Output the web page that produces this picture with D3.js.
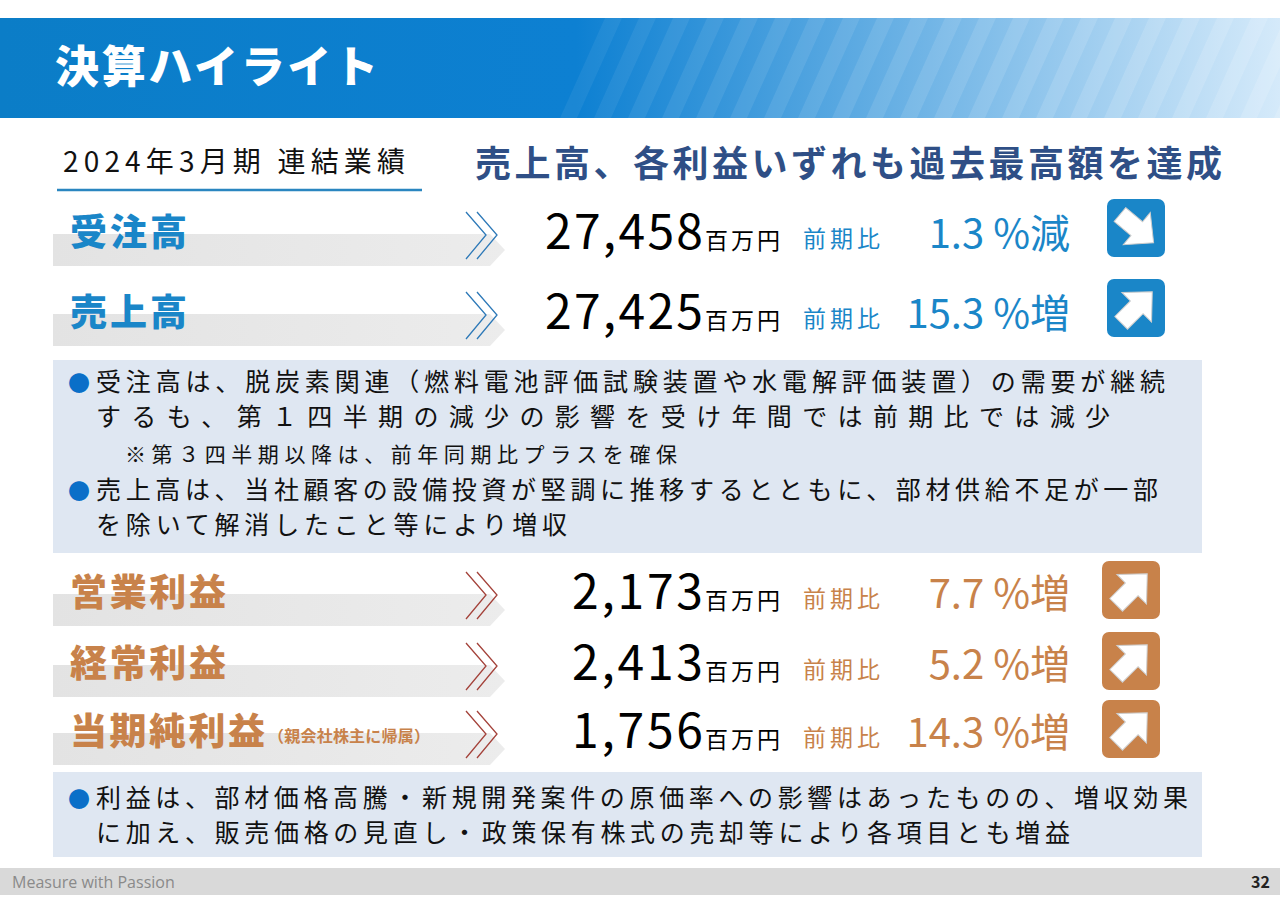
<!DOCTYPE html>
<html><head><meta charset="utf-8">
<script src="https://cdn.jsdelivr.net/npm/d3@7"></script>
<style>body{margin:0;background:#fff}svg{display:block;font-family:"Noto Sans CJK JP","Noto Sans",sans-serif}</style>
</head><body><div id="chart"></div>
<script>
// data
const topLabels = ['受注高', '売上高'];
const topValues = [27458, 27425];
const topPcts = [1.3, 15.3];
const topDirs = ['減', '増'];
const profitLabels = ['営業利益', '経常利益', '当期純利益'];
const profitValues = [2173, 2413, 1756];
const profitPcts = [7.7, 5.2, 14.3];
const profitDirs = ['増', '増', '増'];
const note1 = [
  ['●', '受注高は、脱炭素関連（燃料電池評価試験装置や水電解評価装置）の需要が継続', 1069],
  ['', 'するも、第１四半期の減少の影響を受け年間では前期比では減少', 1014],
  ['', '※第３四半期以降は、前年同期比プラスを確保', 552],
  ['●', '売上高は、当社顧客の設備投資が堅調に推移するとともに、部材供給不足が一部', 1062],
  ['', 'を除いて解消したこと等により増収', 471]
];
const note2 = [
  ['●', '利益は、部材価格高騰・新規開発案件の原価率への影響はあったものの、増収効果', 1092],
  ['', 'に加え、販売価格の見直し・政策保有株式の売却等により各項目とも増益', 974]
];

const W = 1280, H = 905;
const blue = '#1a86c8', orange = '#c8824a';
const svg = d3.select('#chart').append('svg').attr('width', W).attr('height', H);
const defs = svg.append('defs');

const hg = defs.append('linearGradient').attr('id', 'hg');
hg.append('stop').attr('offset', '0').attr('stop-color', '#0b7dc7');
hg.append('stop').attr('offset', '0.45').attr('stop-color', '#0d80d2');
hg.append('stop').attr('offset', '1').attr('stop-color', '#d5eafa');
const bg = defs.append('linearGradient').attr('id', 'bg');
bg.append('stop').attr('offset', '0').attr('stop-color', '#e3e3e3');
bg.append('stop').attr('offset', '1').attr('stop-color', '#ececec');

// header
svg.append('rect').attr('x', 0).attr('y', 18).attr('width', W).attr('height', 100).attr('fill', 'url(#hg)');
const stripes = d3.range(560, 1300, 34);
svg.append('g').selectAll('path').data(stripes).join('path')
  .attr('d', d => `M${d},118 L${d + 45},18 L${d + 62},18 L${d + 17},118Z`)
  .attr('fill', '#fff').attr('opacity', (d, i) => 0.06 + 0.1 * i / stripes.length);
svg.append('text').attr('x', 55).attr('y', 83).attr('fill', '#fff').attr('textLength', 323)
  .attr('font-size', 44).attr('font-weight', 900).text('決算ハイライト');

svg.append('text').attr('x', 63).attr('y', 172).attr('font-size', 28).attr('textLength', 342).attr('fill', '#111').text('2024年3月期 連結業績');
svg.append('line').attr('x1', 57).attr('x2', 422).attr('y1', 190).attr('y2', 190).attr('stroke', '#2a86c0').attr('stroke-width', 2.5);
svg.append('text').attr('x', 475).attr('y', 177).attr('textLength', 747).attr('font-size', 36)
  .attr('font-weight', 700).attr('fill', '#2f4f86').text('売上高、各利益いずれも過去最高額を達成');

// note boxes
function noteBox(lines, y0, h, ys) {
  svg.append('rect').attr('x', 53).attr('y', y0).attr('width', 1149).attr('height', h).attr('fill', '#dfe7f2');
  const g = svg.append('g');
  lines.forEach((l, i) => {
    if (l[0]) g.append('text').attr('x', 68).attr('y', ys[i]).attr('font-size', 22).attr('fill', '#0a6fc8').text(l[0]);
    const small = l[1].startsWith('※');
    g.append('text').attr('x', small ? 125 : 96).attr('y', ys[i]).attr('font-size', small ? 21 : 25)
      .attr('textLength', l[2]).attr('fill', '#111').text(l[1]);
  });
}
noteBox(note1, 360, 193, [391, 426, 462, 499, 534]);
noteBox(note2, 772, 85, [807, 842]);

// rows
const rows = topLabels.map((l, i) => ({ label: l, value: topValues[i], pct: topPcts[i], dir: topDirs[i], c: blue, cc: '#2d79b8', vx: 545 }))
  .concat(profitLabels.map((l, i) => ({ label: l, value: profitValues[i], pct: profitPcts[i], dir: profitDirs[i], c: orange, cc: '#a4423a', vx: 572 })));
const y = d3.scaleOrdinal().domain(rows.map(d => d.label)).range([237, 317, 597, 668, 736]);
const fmt = d3.format(',');

const row = svg.append('g').selectAll('g').data(rows).join('g').attr('transform', d => `translate(0,${y(d.label)})`);
row.append('path').attr('d', 'M53,-3 L490,-3 L505,13 L490,29 L53,29Z').attr('fill', 'url(#bg)');
row.append('text').attr('x', 70).attr('y', 9).attr('font-size', 37).attr('font-weight', 900).attr('fill', d => d.c)
  .attr('textLength', d => d.label.length * 39).text(d => d.label);
row.filter(d => d.label === '当期純利益').append('text').attr('x', 268).attr('y', 6).attr('font-size', 16)
  .attr('font-weight', 700).attr('fill', orange).attr('textLength', 162).text('（親会社株主に帰属）');
row.append('path').attr('d', 'M466,-25 L486,-2 L466,22 M477,-25 L497,-2 L477,22').attr('fill', 'none')
  .attr('stroke', d => d.cc).attr('stroke-width', 1.3);
row.append('text').attr('y', 12).attr('fill', '#000')
  .call(t => t.append('tspan').attr('x', d => d.vx).attr('font-size', 48)
    .attr('textLength', d => 703 - d.vx).text(d => fmt(d.value)))
  .call(t => t.append('tspan').attr('x', 705).attr('font-size', 23).attr('textLength', 75).text('百万円'));
row.append('text').attr('x', 803).attr('y', 10).attr('font-size', 23).attr('textLength', 77).attr('fill', d => d.c).text('前期比');
row.append('text').attr('x', 1070).attr('y', 11).attr('text-anchor', 'end').attr('font-size', 40).attr('fill', d => d.c)
  .text(d => `${d.pct.toFixed(1)} %${d.dir}`);
const icon = row.append('g').attr('transform', (d, i) => `translate(${i < 2 ? 1136 : 1131},${i < 2 ? -9 : -7})`);
icon.append('rect').attr('x', -29).attr('y', -29).attr('width', 58).attr('height', 58).attr('rx', 7).attr('fill', d => d.c);
icon.append('path').attr('d', 'M-21,-9 L1,-9 L1,-21 L23,0 L1,21 L1,9 L-21,9Z')
  .attr('transform', d => `rotate(${d.dir === '減' ? 40 : -45})`).attr('fill', '#fff')
  .attr('stroke', '#ccc').attr('stroke-width', 1);

// footer
svg.append('rect').attr('x', 0).attr('y', 868).attr('width', W).attr('height', 27).attr('fill', '#d9d9d9');
svg.append('text').attr('x', 12).attr('y', 888).attr('font-size', 16).attr('fill', '#8a8a8a').attr('font-family', 'Open Sans').text('Measure with Passion');
svg.append('text').attr('x', 1270).attr('y', 888).attr('text-anchor', 'end').attr('font-size', 16).attr('font-weight', 700).attr('fill', '#222').text('32');
</script></body></html>
